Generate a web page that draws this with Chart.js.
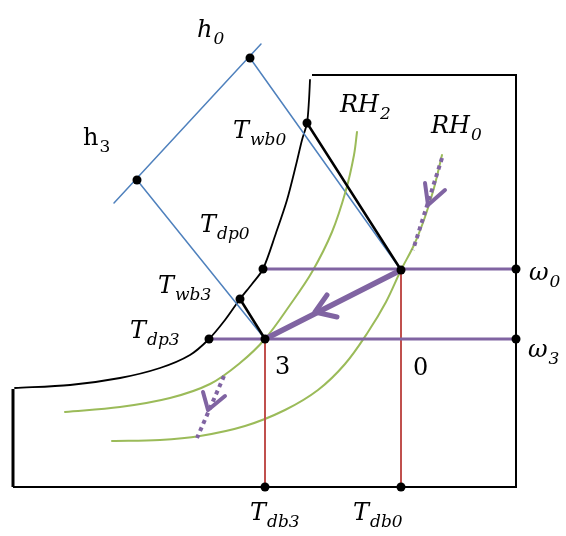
<!DOCTYPE html>
<html>
<head>
<meta charset="utf-8">
<script src="https://cdn.jsdelivr.net/npm/chart.js@4/dist/chart.umd.min.js"></script>
<style>body{margin:0;background:#fff}</style>
</head>
<body>
<canvas id="psy" width="566" height="536"></canvas>
<script>
// schematic psychrometric chart, values in picture units (x right, y down)
var satCurve  = [[15,388],[70,385],[120,378],[160,368],[190,355],[209,339],[225,320],[240,299],[252,284],[263,269],[276,233],[287,200],[296,165],[302,140],[307,123],[309,100],[310,80]];
var rh2Curve  = [[65,412],[120,407],[170,398],[210,384],[240,363],[265,339],[290,305],[312,272],[332,232],[346,190],[354,155],[357,132]];
var rh0Curve  = [[112,441],[160,440],[200,436],[245,426],[285,410],[318,390],[345,364],[368,332],[386,302],[401,270],[414,245],[425,217],[434,188],[442,155]];
var frame     = [[312,75],[516,75],[516,487],[13,487]];
var frameLeft = [[13,487],[13,389]];

var state0 = [401,270];
var state3 = [265,339];
var h0 = [250,58], h3 = [137,180];
var twb0 = [307,123], twb3 = [240,299];
var tdp0 = [263,269], tdp3 = [209,339];
var w0 = [516,269], w3 = [516,339];
var tdb0 = [401,487], tdb3 = [265,487];

var enthalpyAxis = [[114,203],[261,44]];
var arrowMain  = [[327,295],[315,312],[337,317]];
var arrowUpper = [[425,183],[428,205],[445,190]];
var arrowLower = [[203,392],[208,410],[225,396]];
var dotUpper = [[442,158],[413,250]];
var dotLower = [[224,376],[197,438]];

var labels = [
  {t:'h', s:'0', at:[197,37]},
  {t:'h', s:'3', at:[83,145], upright:true},
  {t:'T', s:'wb0', at:[233,138]},
  {t:'RH', s:'2', at:[340,112]},
  {t:'RH', s:'0', at:[431,133]},
  {t:'T', s:'dp0', at:[200,232]},
  {t:'T', s:'wb3', at:[158,293]},
  {t:'T', s:'dp3', at:[130,338]},
  {t:'3', at:[275,374], upright:true},
  {t:'0', at:[413,375], upright:true},
  {t:'\u03c9', s:'0', at:[529,280]},
  {t:'\u03c9', s:'3', at:[528,357]},
  {t:'T', s:'db3', at:[250,520]},
  {t:'T', s:'db0', at:[353,520]}
];

var BLUE = '#4f81bd', PURPLE = '#8064a2', RED = '#c0504d', GREEN = '#9bbb59';

function pts(a){ return a.map(function(p){ return {x:p[0], y:p[1]}; }); }
function line(a, color, w, more){
  var d = {data: pts(a), showLine: true, pointRadius: 0, borderColor: color, borderWidth: w,
           fill: false, clip: false, borderCapStyle: 'round', borderJoinStyle: 'round'};
  for (var k in more) d[k] = more[k];
  return d;
}

var dots = [h0,h3,twb0,twb3,tdp0,tdp3,state0,state3,w0,w3,tdb0,tdb3];

var labelPlugin = {
  id: 'labels',
  beforeDraw: function(chart){
    var c = chart.ctx; c.save(); c.fillStyle = '#fff'; c.fillRect(0,0,chart.width,chart.height); c.restore();
  },
  afterDatasetsDraw: function(chart){
    var c = chart.ctx, xs = chart.scales.x, ys = chart.scales.y;
    c.save();
    c.fillStyle = '#000';
    c.textBaseline = 'alphabetic';
    labels.forEach(function(l){
      var x = xs.getPixelForValue(l.at[0]), y = ys.getPixelForValue(l.at[1]);
      var st = l.upright ? '' : 'italic ';
      c.font = st + '24px "DejaVu Serif"';
      c.fillText(l.t, x, y);
      if (l.s){
        var w = c.measureText(l.t).width;
        c.font = st + '17px "DejaVu Serif"';
        c.fillText(l.s, x + w + 1, y + 7);
      }
    });
    c.restore();
  }
};

new Chart(document.getElementById('psy'), {
  type: 'scatter',
  data: {
    datasets: [
      {data: pts(dots), pointRadius: 4.5, pointBackgroundColor: '#000', pointBorderWidth: 0, showLine: false, clip: false},
      line(arrowMain, PURPLE, 5),
      line([state0, state3], PURPLE, 5.5),
      line(arrowUpper, PURPLE, 4),
      line(arrowLower, PURPLE, 4),
      line(dotUpper, PURPLE, 4, {borderDash: [4,4], borderCapStyle: 'butt'}),
      line(dotLower, PURPLE, 4, {borderDash: [4,4], borderCapStyle: 'butt'}),
      line([twb0, state0], '#000', 2.5),
      line([twb3, state3], '#000', 2.5),
      line([tdp0, w0], PURPLE, 3),
      line([tdp3, w3], PURPLE, 3),
      line([state3, tdb3], RED, 2),
      line([state0, tdb0], RED, 2),
      line(rh2Curve, GREEN, 2, {tension: 0.35}),
      line(rh0Curve, GREEN, 2, {tension: 0.35}),
      line([h0, state0], BLUE, 1.5),
      line([h3, state3], BLUE, 1.5),
      line(enthalpyAxis, BLUE, 1.5),
      line(satCurve, '#000', 1.8, {tension: 0.3}),
      line(frame, '#000', 2, {borderCapStyle: 'butt', borderJoinStyle: 'miter'}),
      line(frameLeft, '#000', 3, {borderCapStyle: 'butt'})
    ]
  },
  options: {
    responsive: false,
    animation: false,
    layout: {padding: 0, autoPadding: false},
    plugins: {legend: {display: false}, tooltip: {enabled: false}},
    scales: {
      x: {type: 'linear', display: false, min: 0, max: 566},
      y: {type: 'linear', display: false, min: 0, max: 536, reverse: true}
    }
  },
  plugins: [labelPlugin]
});
</script>
</body>
</html>
